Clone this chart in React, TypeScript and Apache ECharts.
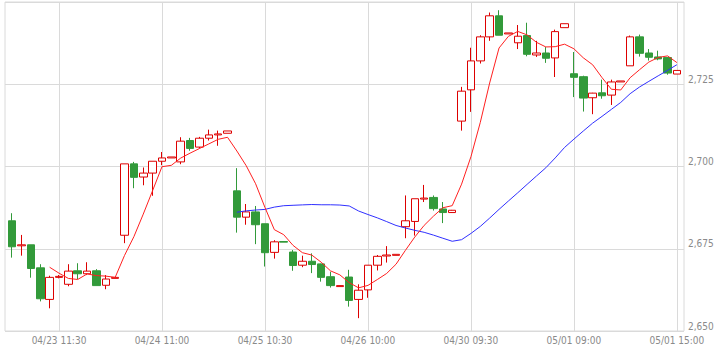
import React, { useEffect, useRef } from 'react';
import * as echarts from 'echarts';

// Tick labels on the time axis (shown every 11th candle, starting at candle 5)
const tickLabels = ['04/23 11:30', '04/24 11:00', '04/25 10:30', '04/26 10:00', '04/30 09:30', '05/01 09:00', '05/01 15:00'];
const firstTickIndex = 5;
const tickStep = 11;

// Candle values
const opens = [
  2683.5, 2675.9, 2676.2, 2669.2, 2659.6, 2666.3, 2664.2, 2668.3, 2667.4, 2668.3,
  2663.9, 2666.0, 2679.1, 2700.8, 2696.8, 2698.0, 2701.6, 2702.6, 2701.4, 2707.9,
  2705.9, 2708.6, 2709.6, 2710.1, 2692.6, 2684.6, 2686.2, 2682.6, 2673.9, 2677.2,
  2674.0, 2670.0, 2671.2, 2670.4, 2666.5, 2663.5, 2666.4, 2659.6, 2662.5, 2670.0,
  2672.8, 2673.0, 2681.7, 2683.3, 2690.1, 2690.6, 2687.1, 2686.0, 2713.8, 2723.3,
  2732.1, 2739.4, 2745.8, 2740.3, 2737.6, 2739.8, 2733.9, 2734.5, 2733.0, 2742.2,
  2728.2, 2727.3, 2720.9, 2722.4, 2721.7, 2725.7, 2730.6, 2739.4, 2734.5, 2733.3,
  2733.1, 2728.1,
];
const closes = [
  2675.6, 2676.2, 2669.0, 2659.8, 2666.3, 2666.6, 2668.2, 2667.4, 2668.2, 2663.8,
  2665.8, 2666.3, 2700.8, 2696.7, 2698.0, 2701.6, 2702.6, 2702.9, 2707.7, 2705.5,
  2708.6, 2709.6, 2709.9, 2710.8, 2684.6, 2686.2, 2682.3, 2673.8, 2677.1, 2677.0,
  2669.9, 2671.2, 2670.2, 2666.3, 2663.8, 2663.8, 2659.3, 2662.4, 2670.0, 2672.7,
  2673.1, 2673.3, 2683.5, 2690.2, 2690.4, 2687.2, 2686.0, 2686.7, 2722.9, 2732.1,
  2739.4, 2745.8, 2739.9, 2740.6, 2739.6, 2734.1, 2734.5, 2732.9, 2741.0, 2743.4,
  2727.1, 2720.8, 2722.3, 2721.5, 2725.7, 2726.0, 2739.4, 2734.4, 2733.2, 2732.7,
  2728.4, 2729.2,
];
const lows = [
  2672.3, 2672.9, 2666.2, 2659.0, 2656.9, 2666.0, 2663.6, 2665.8, 2667.0, 2663.8,
  2662.7, 2666.0, 2676.7, 2693.4, 2694.3, 2691.1, 2700.4, 2702.6, 2700.7, 2704.8,
  2705.5, 2707.9, 2706.3, 2710.1, 2679.9, 2682.3, 2676.4, 2669.6, 2672.0, 2677.0,
  2668.3, 2669.4, 2667.6, 2665.0, 2663.2, 2663.5, 2657.4, 2653.9, 2660.1, 2668.4,
  2670.8, 2673.0, 2678.2, 2679.0, 2689.2, 2686.6, 2682.8, 2685.9, 2710.9, 2716.6,
  2731.3, 2738.2, 2739.9, 2740.3, 2735.7, 2733.5, 2733.3, 2731.5, 2727.2, 2742.2,
  2721.1, 2716.7, 2715.9, 2720.6, 2718.7, 2725.7, 2730.6, 2733.4, 2732.2, 2732.3,
  2727.9, 2728.1,
];
const highs = [
  2685.8, 2679.2, 2676.2, 2670.3, 2666.8, 2667.0, 2670.3, 2670.6, 2670.9, 2668.8,
  2667.0, 2666.3, 2700.8, 2701.4, 2699.7, 2701.6, 2704.4, 2702.9, 2708.9, 2708.7,
  2709.0, 2711.2, 2710.9, 2710.8, 2699.5, 2688.6, 2688.0, 2682.6, 2677.6, 2677.2,
  2674.6, 2672.9, 2673.6, 2670.5, 2668.0, 2663.8, 2668.6, 2664.2, 2670.0, 2673.1,
  2675.8, 2673.3, 2691.2, 2690.2, 2694.4, 2691.2, 2689.2, 2686.8, 2724.2, 2736.1,
  2739.9, 2746.8, 2747.5, 2740.6, 2743.0, 2743.7, 2738.2, 2736.3, 2741.6, 2743.4,
  2734.8, 2727.6, 2722.4, 2726.4, 2726.4, 2726.0, 2739.8, 2740.1, 2735.7, 2735.2,
  2733.2, 2729.2,
];

// Price axis
const priceMin = 2650;
const priceMax = 2750;
const priceStep = 25;

// Moving-average periods of the two lines
const shortPeriod = 5;
const longPeriod = 25;

const categories = opens.map((_, i) =>
  i >= firstTickIndex && (i - firstTickIndex) % tickStep === 0
    ? tickLabels[(i - firstTickIndex) / tickStep]
    : 'c' + i
);
const isTick = (i: number) => i >= firstTickIndex && (i - firstTickIndex) % tickStep === 0;

function movingAverage(values: number[], n: number) {
  return values.map((_, i) => {
    if (i < n - 1) return '-';
    let s = 0;
    for (let k = i - n + 1; k <= i; k++) s += values[k];
    return +(s / n).toFixed(3);
  });
}

const RED = '#dd0000';
const GREEN = '#329a3a';
const GRIDC = '#dadada';
const LABEL = '#8a8a8a';
const FONT = "'DejaVu Sans Condensed', 'DejaVu Sans', sans-serif";

export default function App() {
  const ref = useRef<HTMLDivElement>(null);
  useEffect(() => {
    if (!ref.current) return;
    const chart = echarts.init(ref.current, undefined, { renderer: 'svg' });
    const candleData = opens.map((o, i) => [o, closes[i], lows[i], highs[i]]);
    chart.setOption({
      animation: false,
      backgroundColor: '#ffffff',
      grid: [
        { left: 7.5, top: 2, width: 674.1, height: 329, show: false },
        { left: 5, top: 2, width: 679, height: 329, show: true, borderColor: GRIDC, borderWidth: 1, backgroundColor: 'transparent' },
      ],
      xAxis: [
        {
          type: 'category',
          gridIndex: 0,
          data: categories,
          boundaryGap: true,
          axisLine: { show: false },
          axisTick: { show: false },
          axisLabel: {
            interval: (i: number) => isTick(i),
            color: LABEL,
            fontSize: 10,
            fontFamily: FONT,
            margin: 4,
          },
          splitLine: {
            show: true,
            interval: (i: number) => isTick(i),
            alignWithLabel: true,
            lineStyle: { color: GRIDC, width: 1 },
          },
        },
        { type: 'value', gridIndex: 1, show: false },
      ],
      yAxis: [
        { type: 'value', gridIndex: 0, min: priceMin, max: priceMax, show: false },
        {
          type: 'value',
          gridIndex: 1,
          position: 'right',
          min: priceMin,
          max: priceMax,
          interval: priceStep,
          axisLine: { show: false },
          axisTick: { show: false },
          splitLine: { show: true, lineStyle: { color: GRIDC, width: 1 } },
          axisLabel: {
            showMaxLabel: false,
            verticalAlign: 'bottom',
            margin: 4,
            color: LABEL,
            fontSize: 10,
            fontFamily: FONT,
            formatter: (v: number) => v.toLocaleString('en-US'),
          },
        },
      ],
      series: [
        {
          type: 'candlestick',
          xAxisIndex: 0,
          yAxisIndex: 0,
          data: candleData,
          barWidth: 8,
          itemStyle: {
            color: '#ffffff',
            color0: GREEN,
            borderColor: RED,
            borderColor0: GREEN,
            borderColorDoji: RED,
            borderWidth: 1,
          },
        },
        {
          type: 'line',
          xAxisIndex: 0,
          yAxisIndex: 0,
          data: movingAverage(closes, longPeriod),
          symbol: 'none',
          lineStyle: { color: '#3030ff', width: 1 },
        },
        {
          type: 'line',
          xAxisIndex: 0,
          yAxisIndex: 0,
          data: movingAverage(closes, shortPeriod),
          symbol: 'none',
          lineStyle: { color: '#ff2020', width: 1 },
        },
      ],
    });
    return () => chart.dispose();
  }, []);
  return <div ref={ref} style={{ position: 'fixed', left: 0, top: 0, width: 724, height: 357 }} />;
}
